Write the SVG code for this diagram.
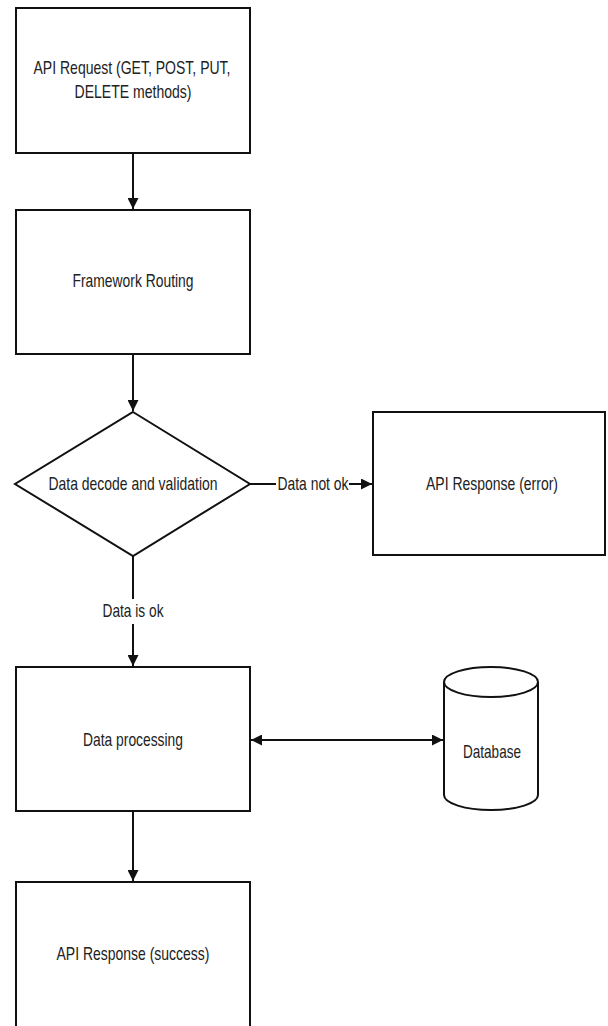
<svg xmlns="http://www.w3.org/2000/svg" width="608" height="1026" viewBox="0 0 608 1026">
  <style>
    .shape { fill: #ffffff; stroke: #111111; stroke-width: 2; }
    .edge { fill: none; stroke: #111111; stroke-width: 2; }
    .label { font-family: "Liberation Sans", Arial, sans-serif; font-size: 19px; fill: #222222; text-anchor: middle; }
  </style>
  <defs>
    <marker id="arrow" viewBox="0 0 10 10" refX="10" refY="5" markerWidth="6.5" markerHeight="5.5" orient="auto-start-reverse" markerUnits="strokeWidth">
      <path d="M0,0 L10,5 L0,10 Z" fill="#111111"/>
    </marker>
  </defs>
  <rect width="608" height="1026" fill="#ffffff"/>

  <g id="connectors">
    <line class="edge" x1="133" y1="153" x2="133" y2="209" marker-end="url(#arrow)"/>
    <line class="edge" x1="133" y1="354" x2="133" y2="411" marker-end="url(#arrow)"/>
    <line class="edge" x1="250" y1="484" x2="276" y2="484"/>
    <line class="edge" x1="349" y1="484" x2="372" y2="484" marker-end="url(#arrow)"/>
    <line class="edge" x1="133" y1="556" x2="133" y2="599"/>
    <line class="edge" x1="133" y1="624" x2="133" y2="666" marker-end="url(#arrow)"/>
    <line class="edge" x1="251" y1="740" x2="443" y2="740" marker-start="url(#arrow)" marker-end="url(#arrow)"/>
    <line class="edge" x1="133" y1="811" x2="133" y2="881" marker-end="url(#arrow)"/>
    <text class="label" x="313" y="490" textLength="71" lengthAdjust="spacingAndGlyphs">Data not ok</text>
    <text class="label" x="133" y="617" textLength="61" lengthAdjust="spacingAndGlyphs">Data is ok</text>
  </g>

  <g id="api-request">
    <rect class="shape" x="16" y="8" width="234" height="145"/>
    <text class="label" x="132" y="74" textLength="197" lengthAdjust="spacingAndGlyphs">API Request (GET, POST, PUT,</text>
    <text class="label" x="133" y="98" textLength="117" lengthAdjust="spacingAndGlyphs">DELETE methods)</text>
  </g>

  <g id="framework-routing">
    <rect class="shape" x="16" y="210" width="234" height="144"/>
    <text class="label" x="133" y="287" textLength="121" lengthAdjust="spacingAndGlyphs">Framework Routing</text>
  </g>

  <g id="validation">
    <polygon class="shape" points="133,412 250,484 133,556 15,484"/>
    <text class="label" x="133" y="490" textLength="169" lengthAdjust="spacingAndGlyphs">Data decode and validation</text>
  </g>

  <g id="response-error">
    <rect class="shape" x="373" y="412" width="232" height="143"/>
    <text class="label" x="492" y="490" textLength="132" lengthAdjust="spacingAndGlyphs">API Response (error)</text>
  </g>

  <g id="data-processing">
    <rect class="shape" x="16" y="667" width="234" height="144"/>
    <text class="label" x="133" y="746" textLength="100" lengthAdjust="spacingAndGlyphs">Data processing</text>
  </g>

  <g id="database">
    <path class="shape" d="M444,682 A47,15 0 0 1 538,682 L538,795 A47,15 0 0 1 444,795 Z"/>
    <path class="edge" d="M444,682 A47,15 0 0 0 538,682"/>
    <text class="label" x="492" y="758" textLength="58" lengthAdjust="spacingAndGlyphs">Database</text>
  </g>

  <g id="response-success">
    <rect class="shape" x="16" y="882" width="234" height="150"/>
    <text class="label" x="133" y="960" textLength="153" lengthAdjust="spacingAndGlyphs">API Response (success)</text>
  </g>
</svg>
